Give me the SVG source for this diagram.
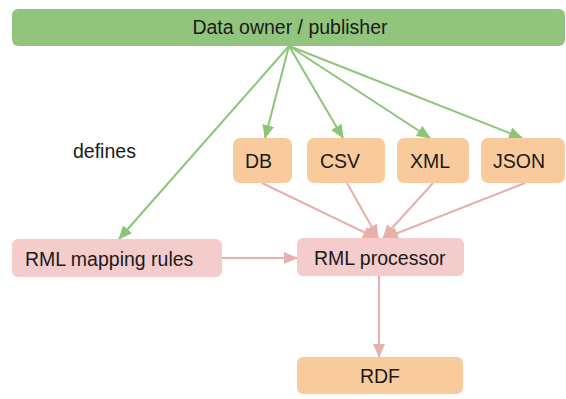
<svg xmlns="http://www.w3.org/2000/svg" width="566" height="399" viewBox="0 0 566 399">
<style>
text{font-family:"Liberation Sans",Arial,sans-serif;font-size:19.5px;fill:#1a1a1a}
.g{fill:#93c47d}
.o{fill:#f9cb9c}
.p{fill:#f4cccc}
.ge{stroke:#8cc577;stroke-width:2;fill:none;marker-end:url(#ag)}
.pe{stroke:#e6b1aa;stroke-width:2;fill:none;marker-end:url(#ap)}
</style>
<defs>
<marker id="ag" markerUnits="userSpaceOnUse" markerWidth="14" markerHeight="12" viewBox="0 0 14 12" refX="13" refY="6" orient="auto"><path d="M0,0 L14,6 L0,12 z" fill="#8cc577"/></marker>
<marker id="ap" markerUnits="userSpaceOnUse" markerWidth="14" markerHeight="12" viewBox="0 0 14 12" refX="13" refY="6" orient="auto"><path d="M0,0 L14,6 L0,12 z" fill="#e6b1aa"/></marker>
</defs>
<rect width="566" height="399" fill="#fff"/>
<g id="connectors">
<line class="ge" x1="289" y1="46" x2="265" y2="138"/>
<line class="ge" x1="289" y1="46" x2="343" y2="138"/>
<line class="ge" x1="289" y1="46" x2="430" y2="138"/>
<line class="ge" x1="289" y1="46" x2="522" y2="138"/>
<line class="ge" x1="289" y1="46" x2="119" y2="239"/>
<line class="pe" x1="262" y1="183" x2="376" y2="238"/>
<line class="pe" x1="347" y1="183" x2="378" y2="238"/>
<line class="pe" x1="433" y1="183" x2="383" y2="238"/>
<line class="pe" x1="525" y1="183" x2="385" y2="238"/>
<line class="pe" x1="222" y1="258" x2="297" y2="258"/>
<line class="pe" x1="379" y1="276" x2="379" y2="357"/>
</g>
<g id="publisher"><rect class="g" x="12" y="9" width="553" height="37" rx="6"/><text x="290" y="34" text-anchor="middle">Data owner / publisher</text></g>
<g id="defines"><text x="73" y="158">defines</text></g>
<g id="db"><rect class="o" x="233" y="138" width="59" height="45" rx="7"/><text x="245" y="168">DB</text></g>
<g id="csv"><rect class="o" x="307" y="138" width="78" height="45" rx="7"/><text x="320" y="168">CSV</text></g>
<g id="xml"><rect class="o" x="397" y="138" width="72" height="45" rx="7"/><text x="410" y="168">XML</text></g>
<g id="json"><rect class="o" x="481" y="138" width="84" height="45" rx="7"/><text x="493" y="168">JSON</text></g>
<g id="rules"><rect class="p" x="12" y="239" width="210" height="38" rx="6"/><text x="25" y="266">RML mapping rules</text></g>
<g id="processor"><rect class="p" x="297" y="238" width="167" height="38" rx="6"/><text x="314" y="265">RML processor</text></g>
<g id="rdf"><rect class="o" x="297" y="357" width="166" height="37" rx="6"/><text x="380" y="383" text-anchor="middle">RDF</text></g>
</svg>
